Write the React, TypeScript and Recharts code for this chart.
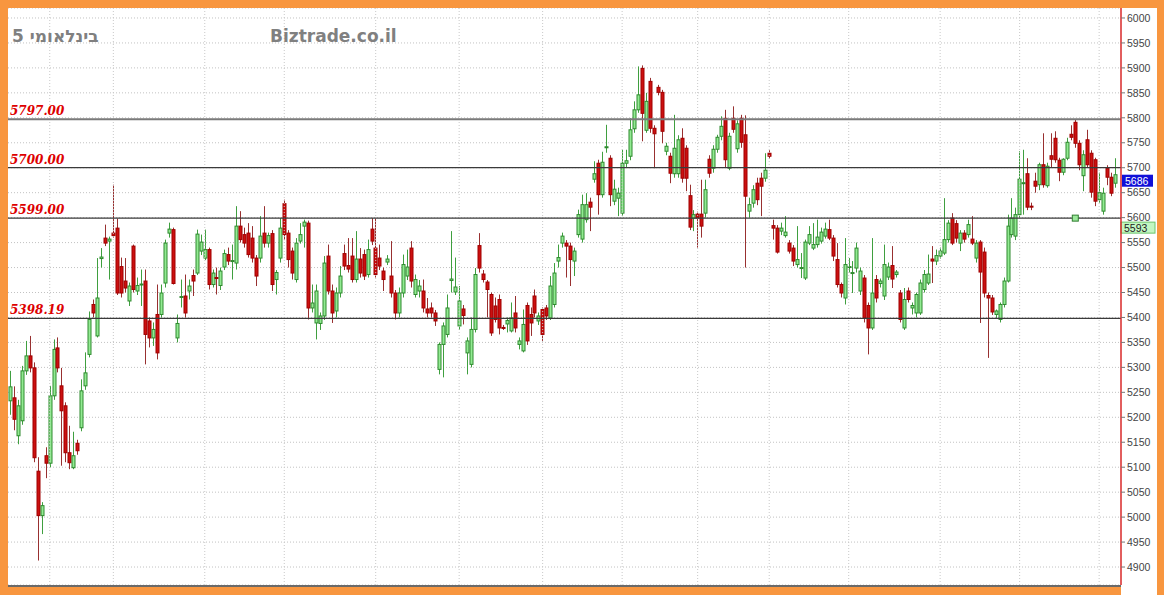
import React from 'react';
import { ComposedChart, Bar, XAxis, YAxis, CartesianGrid, ReferenceLine, ReferenceDot } from 'recharts';

const opens = [
  5233,5239,5163,5193,5293,5323,5299,5092,5003,5123,
  5108,5243,5339,5263,5223,5129,5099,5148,5179,5263,
  5326,5426,5363,5518,5559,5553,5569,5579,5502,5473,
  5433,5543,5453,5465,5473,5393,5359,5406,5406,5469,
  5569,5576,5359,5440,5443,5453,5484,5489,5533,5519,
  5536,5466,5480,5464,5501,5526,5512,5509,5583,5566,
  5569,5559,5519,5519,5569,5549,5568,5476,5519,5628,
  5569,5533,5476,5553,5583,5589,5419,5389,5388,5403,
  5523,5453,5413,5449,5528,5504,5523,5476,5517,5526,
  5486,5577,5539,5519,5493,5511,5483,5449,5409,5449,
  5483,5539,5446,5453,5453,5417,5419,5409,5296,5346,
  5366,5474,5451,5383,5417,5329,5306,5376,5544,5487,
  5471,5446,5423,5436,5380,5387,5373,5409,5346,5333,
  5424,5406,5443,5393,5416,5419,5399,5426,5513,5549,
  5549,5543,5513,5566,5557,5596,5631,5677,5709,5646,
  5740,5719,5633,5639,5609,5709,5723,5778,5816,5899,
  5775,5873,5779,5861,5851,5733,5723,5688,5688,5759,
  5739,5644,5599,5607,5607,5609,5717,5699,5737,5763,
  5799,5699,5799,5738,5799,5766,5613,5629,5669,5679,
  5679,5729,5584,5579,5573,5564,5549,5539,5506,5499,
  5479,5549,5539,5546,5553,5563,5576,5559,5516,5466,
  5439,5500,5489,5499,5453,5479,5424,5379,5476,5468,
  5443,5481,5504,5486,5449,5379,5453,5419,5409,5409,
  5456,5469,5517,5513,5523,5529,5556,5599,5588,5549,
  5569,5566,5557,5519,5551,5531,5444,5439,5406,5396,
  5426,5473,5566,5563,5606,5668,5688,5623,5673,5666,
  5706,5664,5724,5759,5715,5691,5719,5767,5791,5749,
  5684,5756,5729,5716,5636,5613,5699,5681,5669,
];

const highs = [
  5293,5262,5235,5303,5353,5363,5310,5120,5030,5140,
  5263,5356,5360,5299,5230,5183,5171,5155,5276,5330,
  5412,5436,5519,5539,5586,5562,5666,5598,5520,5519,
  5470,5546,5480,5496,5496,5400,5390,5466,5466,5556,
  5590,5580,5406,5476,5486,5476,5496,5576,5566,5576,
  5540,5496,5500,5500,5536,5540,5546,5623,5613,5580,
  5589,5583,5525,5603,5623,5570,5575,5495,5599,5636,
  5575,5540,5559,5589,5596,5594,5466,5466,5410,5523,
  5546,5466,5460,5503,5546,5559,5559,5573,5539,5536,
  5556,5599,5599,5546,5500,5525,5553,5455,5460,5526,
  5536,5553,5486,5475,5476,5439,5430,5415,5350,5390,
  5446,5573,5520,5463,5425,5360,5400,5499,5569,5495,
  5475,5450,5440,5446,5385,5400,5430,5443,5360,5416,
  5430,5420,5456,5410,5420,5425,5483,5509,5546,5570,
  5555,5550,5540,5616,5646,5649,5640,5713,5716,5732,
  5786,5725,5676,5660,5736,5736,5799,5833,5903,5905,
  5850,5880,5785,5866,5856,5750,5730,5806,5765,5779,
  5745,5666,5615,5612,5676,5676,5725,5745,5766,5803,
  5816,5770,5823,5795,5806,5805,5640,5665,5680,5690,
  5729,5735,5596,5585,5590,5603,5555,5545,5583,5529,
  5556,5583,5589,5596,5580,5590,5596,5565,5549,5470,
  5559,5519,5513,5550,5500,5485,5430,5559,5485,5478,
  5546,5510,5543,5495,5455,5459,5460,5430,5450,5476,
  5495,5526,5543,5536,5540,5639,5595,5609,5595,5575,
  5575,5596,5603,5555,5555,5540,5450,5445,5416,5430,
  5480,5606,5639,5620,5733,5736,5719,5630,5690,5710,
  5769,5710,5769,5773,5720,5719,5760,5785,5796,5755,
  5735,5776,5735,5720,5690,5660,5705,5690,5719,
];

const lows = [
  5205,5174,5146,5185,5285,5290,5110,4913,4966,5078,
  5100,5235,5290,5103,5110,5096,5096,5125,5172,5255,
  5320,5400,5360,5500,5543,5476,5560,5445,5440,5450,
  5423,5450,5445,5423,5306,5340,5343,5316,5400,5460,
  5560,5466,5350,5420,5400,5436,5443,5485,5525,5515,
  5456,5460,5446,5455,5495,5505,5476,5496,5550,5540,
  5520,5510,5463,5510,5540,5540,5453,5446,5510,5555,
  5500,5476,5470,5548,5540,5396,5410,5356,5375,5395,
  5446,5389,5400,5440,5495,5490,5470,5470,5480,5475,
  5480,5545,5480,5495,5453,5505,5440,5396,5400,5440,
  5475,5460,5440,5440,5410,5400,5400,5383,5286,5280,
  5360,5450,5445,5375,5386,5286,5300,5370,5490,5470,
  5400,5363,5390,5366,5375,5370,5370,5370,5336,5330,
  5345,5363,5400,5385,5353,5395,5395,5420,5500,5540,
  5480,5463,5483,5560,5550,5590,5573,5670,5606,5640,
  5730,5623,5625,5603,5603,5700,5715,5770,5810,5753,
  5770,5770,5699,5845,5749,5725,5669,5680,5680,5670,
  5653,5575,5573,5540,5560,5600,5680,5690,5730,5755,
  5700,5695,5770,5730,5740,5500,5600,5620,5625,5603,
  5672,5718,5556,5528,5565,5560,5528,5503,5500,5479,
  5475,5545,5535,5540,5548,5558,5555,5513,5460,5440,
  5426,5490,5449,5490,5445,5390,5326,5375,5430,5460,
  5435,5475,5459,5480,5390,5375,5430,5406,5400,5405,
  5450,5465,5469,5505,5518,5525,5550,5545,5550,5533,
  5550,5560,5545,5510,5389,5440,5319,5405,5399,5390,
  5420,5470,5560,5555,5600,5606,5615,5615,5650,5655,
  5660,5660,5700,5710,5673,5685,5715,5755,5740,5695,
  5653,5700,5640,5623,5630,5606,5665,5643,5660,
];

const closes = [
  5261,5196,5223,5293,5323,5299,5119,5003,5023,5108,
  5243,5336,5299,5213,5129,5109,5123,5133,5253,5289,
  5396,5409,5439,5521,5549,5557,5564,5449,5449,5459,
  5463,5456,5464,5467,5366,5359,5376,5329,5449,5549,
  5577,5468,5388,5442,5409,5463,5473,5567,5551,5536,
  5466,5489,5478,5493,5528,5513,5514,5583,5556,5549,
  5526,5519,5483,5563,5549,5564,5466,5490,5579,5566,
  5516,5489,5549,5566,5591,5419,5429,5453,5403,5509,
  5453,5409,5449,5483,5503,5497,5476,5517,5489,5483,
  5536,5553,5486,5503,5476,5517,5449,5409,5449,5506,
  5501,5473,5476,5463,5419,5409,5409,5393,5346,5383,
  5419,5477,5461,5433,5404,5353,5376,5486,5499,5476,
  5456,5369,5396,5379,5379,5394,5399,5379,5353,5386,
  5353,5389,5409,5403,5366,5403,5463,5489,5520,5563,
  5543,5516,5533,5606,5626,5626,5621,5688,5646,5711,
  5742,5646,5657,5649,5709,5714,5776,5816,5846,5809,
  5833,5779,5768,5851,5773,5743,5689,5739,5756,5679,
  5679,5581,5606,5599,5583,5656,5689,5737,5761,5783,
  5716,5763,5777,5788,5751,5643,5626,5656,5636,5663,
  5695,5723,5579,5531,5579,5571,5533,5513,5516,5500,
  5551,5566,5546,5561,5571,5577,5559,5523,5466,5449,
  5506,5502,5490,5539,5493,5399,5379,5449,5439,5473,
  5506,5501,5477,5491,5396,5436,5436,5424,5446,5469,
  5486,5487,5513,5524,5533,5556,5589,5549,5559,5569,
  5557,5586,5549,5549,5491,5449,5439,5411,5413,5426,
  5473,5583,5599,5606,5677,5670,5621,5621,5663,5706,
  5666,5703,5717,5716,5691,5717,5751,5761,5749,5706,
  5726,5706,5651,5633,5650,5649,5681,5649,5686,
];

const yTicks = [
  4900, 4950, 5000, 5050, 5100, 5150, 5200, 5250, 5300, 5350, 5400, 5450,
  5500, 5550, 5600, 5650, 5700, 5750, 5800, 5850, 5900, 5950, 6000,
];
const supportLevels = [5797.0, 5700.0, 5599.0, 5398.19];
const supportLabels = ['5797.00', '5700.00', '5599.00', '5398.19'];
const monthStarts = [10, 26, 49, 69, 92, 113, 134, 154, 173, 191, 211, 234, 254, 274];
const lastPrice = 5686;
const alertPrice = 5593;
const markerIndex = 268;
const markerLevel = 5599;
const titleText = '5 בינלאומי';
const siteText = 'Biztrade.co.il';

const data = opens.map((o, i) => ({
  i,
  o,
  h: highs[i],
  l: lows[i],
  c: closes[i],
  range: [lows[i], highs[i]],
}));

const ORANGE = '#f8963f';

function CandleShape(props: any) {
  const { x, y, width, height, payload } = props;
  if (!payload || x == null || y == null) return null;
  const { o, h, l, c } = payload;
  const top = Math.min(y, y + height);
  const span = Math.abs(height);
  const toY = (v: number) => (h === l ? top : top + ((h - v) / (h - l)) * span);
  const cx = Math.round(x + width / 2) + 0.5;
  const up = c >= o;
  const yO = toY(o);
  const yC = toY(c);
  const bodyTop = Math.min(yO, yC);
  const bodyH = Math.max(Math.abs(yO - yC), 1);
  return (
    <g>
      <line x1={cx} x2={cx} y1={top} y2={top + span} stroke={up ? '#3f9f3f' : '#983030'} strokeWidth={1} />
      <rect
        x={cx - 1.5}
        y={bodyTop}
        width={3}
        height={bodyH}
        fill={up ? '#92ea92' : '#cc1010'}
        stroke={up ? '#2f8a2f' : '#a00000'}
        strokeWidth={1}
      />
    </g>
  );
}

export default function App() {
  return (
    <div style={{ position: 'absolute', left: 0, top: 0, width: 1164, height: 595, background: ORANGE, overflow: 'hidden' }}>
      <div style={{ position: 'absolute', left: 1121, top: 8, width: 36, height: 587, background: '#ffffff' }} />
      <div
        style={{
          position: 'absolute',
          left: 8,
          top: 8,
          width: 1113,
          height: 577,
          background: '#ffffff',
          borderBottom: '2px solid #6a6a6a',
        }}
      />
      <div style={{ position: 'absolute', left: 8, top: 8 }}>
        <ComposedChart width={1149} height={577} data={data} margin={{ top: 0, right: 0, bottom: 0, left: 0 }}>
          <CartesianGrid vertical={false} stroke="#c2c2c2" strokeDasharray="1 2" />
          <XAxis type="number" dataKey="i" domain={[-0.5, 279.5]} hide allowDataOverflow />
          <YAxis
            orientation="right"
            domain={[4864, 6020]}
            ticks={yTicks}
            interval={0}
            width={36}
            allowDataOverflow
            axisLine={{ stroke: '#d82828', strokeWidth: 1.5 }}
            tickLine={{ stroke: '#777' }}
            tickSize={4}
            tick={{ fontSize: 10.5, fill: '#444', fontFamily: 'Liberation Sans, Arial, sans-serif' }}
          />
          {monthStarts.map((m) => (
            <ReferenceLine key={'m' + m} x={m} stroke="#c8c8c8" strokeDasharray="1 2" />
          ))}
          {supportLevels.map((lvl, k) => (
            <ReferenceLine
              key={'s' + k}
              y={lvl}
              stroke={k === 0 ? '#7a7a7a' : '#3a3a3a'}
              strokeWidth={k === 0 ? 2 : 1.2}
              label={(p: any) => (
                <text
                  x={p.viewBox.x + 2}
                  y={p.viewBox.y - 4}
                  fill="#dd0000"
                  fontFamily="DejaVu Serif, serif"
                  fontStyle="italic"
                  fontWeight="bold"
                  fontSize={12}
                >
                  {supportLabels[k]}
                </text>
              )}
            />
          ))}
          <Bar dataKey="range" barSize={4} isAnimationActive={false} shape={(p: any) => <CandleShape {...p} />} />
          <ReferenceDot
            x={markerIndex}
            y={markerLevel}
            r={3}
            shape={(p: any) => (
              <rect x={p.cx - 3} y={p.cy - 3} width={6} height={6} fill="#9be89b" stroke="#2e7d2e" strokeWidth={1} />
            )}
          />
          <ReferenceLine
            y={alertPrice}
            stroke="none"
            label={(p: any) => (
              <g>
                <rect x={p.viewBox.x + p.viewBox.width} y={p.viewBox.y + 1} width={34} height={11} fill="#c2f7c2" stroke="#6cc46c" />
                <text x={p.viewBox.x + p.viewBox.width + 3} y={p.viewBox.y + 10.5} fontSize={10.5} fill="#222" fontFamily="Liberation Sans, Arial, sans-serif">
                  {String(alertPrice)}
                </text>
              </g>
            )}
          />
          <ReferenceLine
            y={lastPrice}
            stroke="none"
            label={(p: any) => (
              <g>
                <rect x={p.viewBox.x + p.viewBox.width + 1} y={p.viewBox.y} width={31} height={12} fill="#1010d8" />
                <text x={p.viewBox.x + p.viewBox.width + 4} y={p.viewBox.y + 10} fontSize={10.5} fill="#ffffff" fontFamily="Liberation Sans, Arial, sans-serif">
                  {String(lastPrice)}
                </text>
              </g>
            )}
          />
        </ComposedChart>
      </div>
      <div
        style={{
          position: 'absolute',
          left: 12,
          top: 26,
          fontFamily: 'DejaVu Sans, sans-serif',
          fontWeight: 'bold',
          fontSize: 17,
          lineHeight: '20px',
          color: '#808080',
          whiteSpace: 'nowrap',
        }}
      >
        {titleText}
      </div>
      <div
        style={{
          position: 'absolute',
          left: 270,
          top: 26,
          fontFamily: 'DejaVu Sans, sans-serif',
          fontWeight: 'bold',
          fontSize: 17,
          lineHeight: '20px',
          color: '#808080',
          whiteSpace: 'nowrap',
        }}
      >
        {siteText}
      </div>
    </div>
  );
}
